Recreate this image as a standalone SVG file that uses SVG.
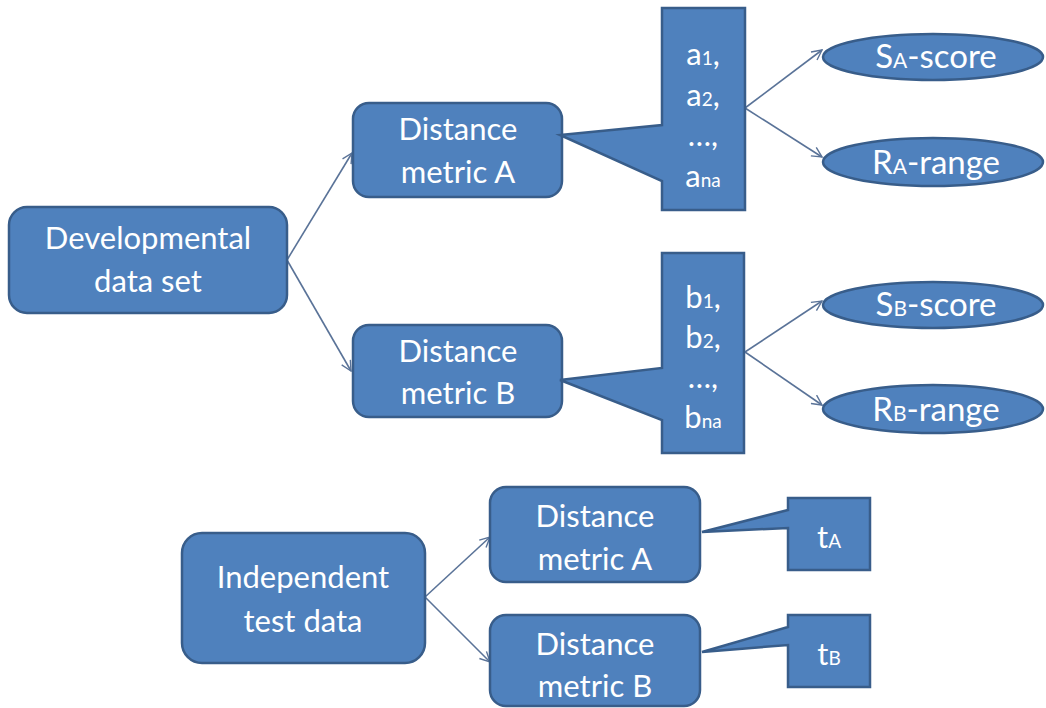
<svg xmlns="http://www.w3.org/2000/svg" width="1046" height="708" viewBox="0 0 1046 708">
  <defs>
    <style>
      .box { fill: #4F81BD; stroke: #385D8A; stroke-width: 2.5; }
      .lbl { font-family: Lato, "Liberation Sans", sans-serif; font-size: 31px; fill: #ffffff; text-anchor: middle; }
      .big { font-size: 33px; }
      .sub { font-size: 19px; }
      .sub2 { font-size: 21px; }
      .edge { fill: none; stroke: #5A7398; stroke-width: 1.6; marker-end: url(#open); }
    </style>
    <marker id="open" viewBox="0 0 12 12" refX="11" refY="6" markerWidth="12" markerHeight="12" markerUnits="userSpaceOnUse" orient="auto">
      <path d="M1,1 L11,6 L1,11" fill="none" stroke="#5A7398" stroke-width="1.4"/>
    </marker>
  </defs>
  <rect width="1046" height="708" fill="#ffffff"/>

  <g id="connectors">
    <line class="edge" x1="287" y1="260" x2="352" y2="153"/>
    <line class="edge" x1="287" y1="260" x2="351" y2="371"/>
    <line class="edge" x1="745" y1="108" x2="822" y2="50"/>
    <line class="edge" x1="745" y1="108" x2="822" y2="157"/>
    <line class="edge" x1="745" y1="352" x2="822" y2="301"/>
    <line class="edge" x1="745" y1="352" x2="822" y2="405"/>
    <line class="edge" x1="425" y1="597" x2="490" y2="537"/>
    <line class="edge" x1="425" y1="597" x2="490" y2="662"/>
  </g>

  <g id="dev-data">
    <rect class="box" x="9" y="207" width="278" height="106" rx="18"/>
    <text class="lbl" x="148" y="249">Developmental</text>
    <text class="lbl" x="148" y="292">data set</text>
  </g>

  <g id="dist-a">
    <rect class="box" x="353" y="103" width="209" height="94" rx="16"/>
    <text class="lbl" x="458" y="140">Distance</text>
    <text class="lbl" x="458" y="183">metric A</text>
  </g>

  <g id="dist-b">
    <rect class="box" x="353" y="325" width="209" height="92" rx="16"/>
    <text class="lbl" x="458" y="362">Distance</text>
    <text class="lbl" x="458" y="404">metric B</text>
  </g>

  <g id="values-a">
    <path class="box" d="M662,8 H745 V210 H662 V181 L560,135 L662,125 Z"/>
    <text class="lbl" x="703" y="65">a<tspan class="sub">1</tspan>,</text>
    <text class="lbl" x="703" y="106">a<tspan class="sub">2</tspan>,</text>
    <text class="lbl" x="703" y="146">…,</text>
    <text class="lbl" x="703" y="187">a<tspan class="sub">na</tspan></text>
  </g>

  <g id="values-b">
    <path class="box" d="M662,253 H744 V453 H662 V420 L560,380 L662,368 Z"/>
    <text class="lbl" x="703" y="308">b<tspan class="sub">1</tspan>,</text>
    <text class="lbl" x="703" y="348">b<tspan class="sub">2</tspan>,</text>
    <text class="lbl" x="703" y="388">…,</text>
    <text class="lbl" x="703" y="428">b<tspan class="sub">na</tspan></text>
  </g>

  <g id="score-a">
    <ellipse class="box" cx="933" cy="57" rx="110" ry="23"/>
    <text class="lbl big" x="936" y="68">S<tspan class="sub2">A</tspan>-score</text>
  </g>

  <g id="range-a">
    <ellipse class="box" cx="933" cy="162" rx="110" ry="24"/>
    <text class="lbl big" x="936" y="174">R<tspan class="sub2">A</tspan>-range</text>
  </g>

  <g id="score-b">
    <ellipse class="box" cx="933" cy="305" rx="110" ry="23"/>
    <text class="lbl big" x="936" y="316">S<tspan class="sub2">B</tspan>-score</text>
  </g>

  <g id="range-b">
    <ellipse class="box" cx="933" cy="409" rx="110" ry="24"/>
    <text class="lbl big" x="936" y="421">R<tspan class="sub2">B</tspan>-range</text>
  </g>

  <g id="test-data">
    <rect class="box" x="182" y="533" width="243" height="130" rx="20"/>
    <text class="lbl" x="303" y="588">Independent</text>
    <text class="lbl" x="303" y="632">test data</text>
  </g>

  <g id="test-dist-a">
    <rect class="box" x="490" y="487" width="210" height="95" rx="16"/>
    <text class="lbl" x="595" y="527">Distance</text>
    <text class="lbl" x="595" y="570">metric A</text>
  </g>

  <g id="test-dist-b">
    <rect class="box" x="490" y="615" width="210" height="91" rx="16"/>
    <text class="lbl" x="595" y="655">Distance</text>
    <text class="lbl" x="595" y="697">metric B</text>
  </g>

  <g id="value-ta">
    <path class="box" d="M788,498 H870 V570 H788 V528 L702,532 L788,510 Z"/>
    <text class="lbl" x="829" y="548">t<tspan class="sub">A</tspan></text>
  </g>

  <g id="value-tb">
    <path class="box" d="M788,615 H870 V687 H788 V645 L702,652 L788,627 Z"/>
    <text class="lbl" x="829" y="665">t<tspan class="sub">B</tspan></text>
  </g>
</svg>
